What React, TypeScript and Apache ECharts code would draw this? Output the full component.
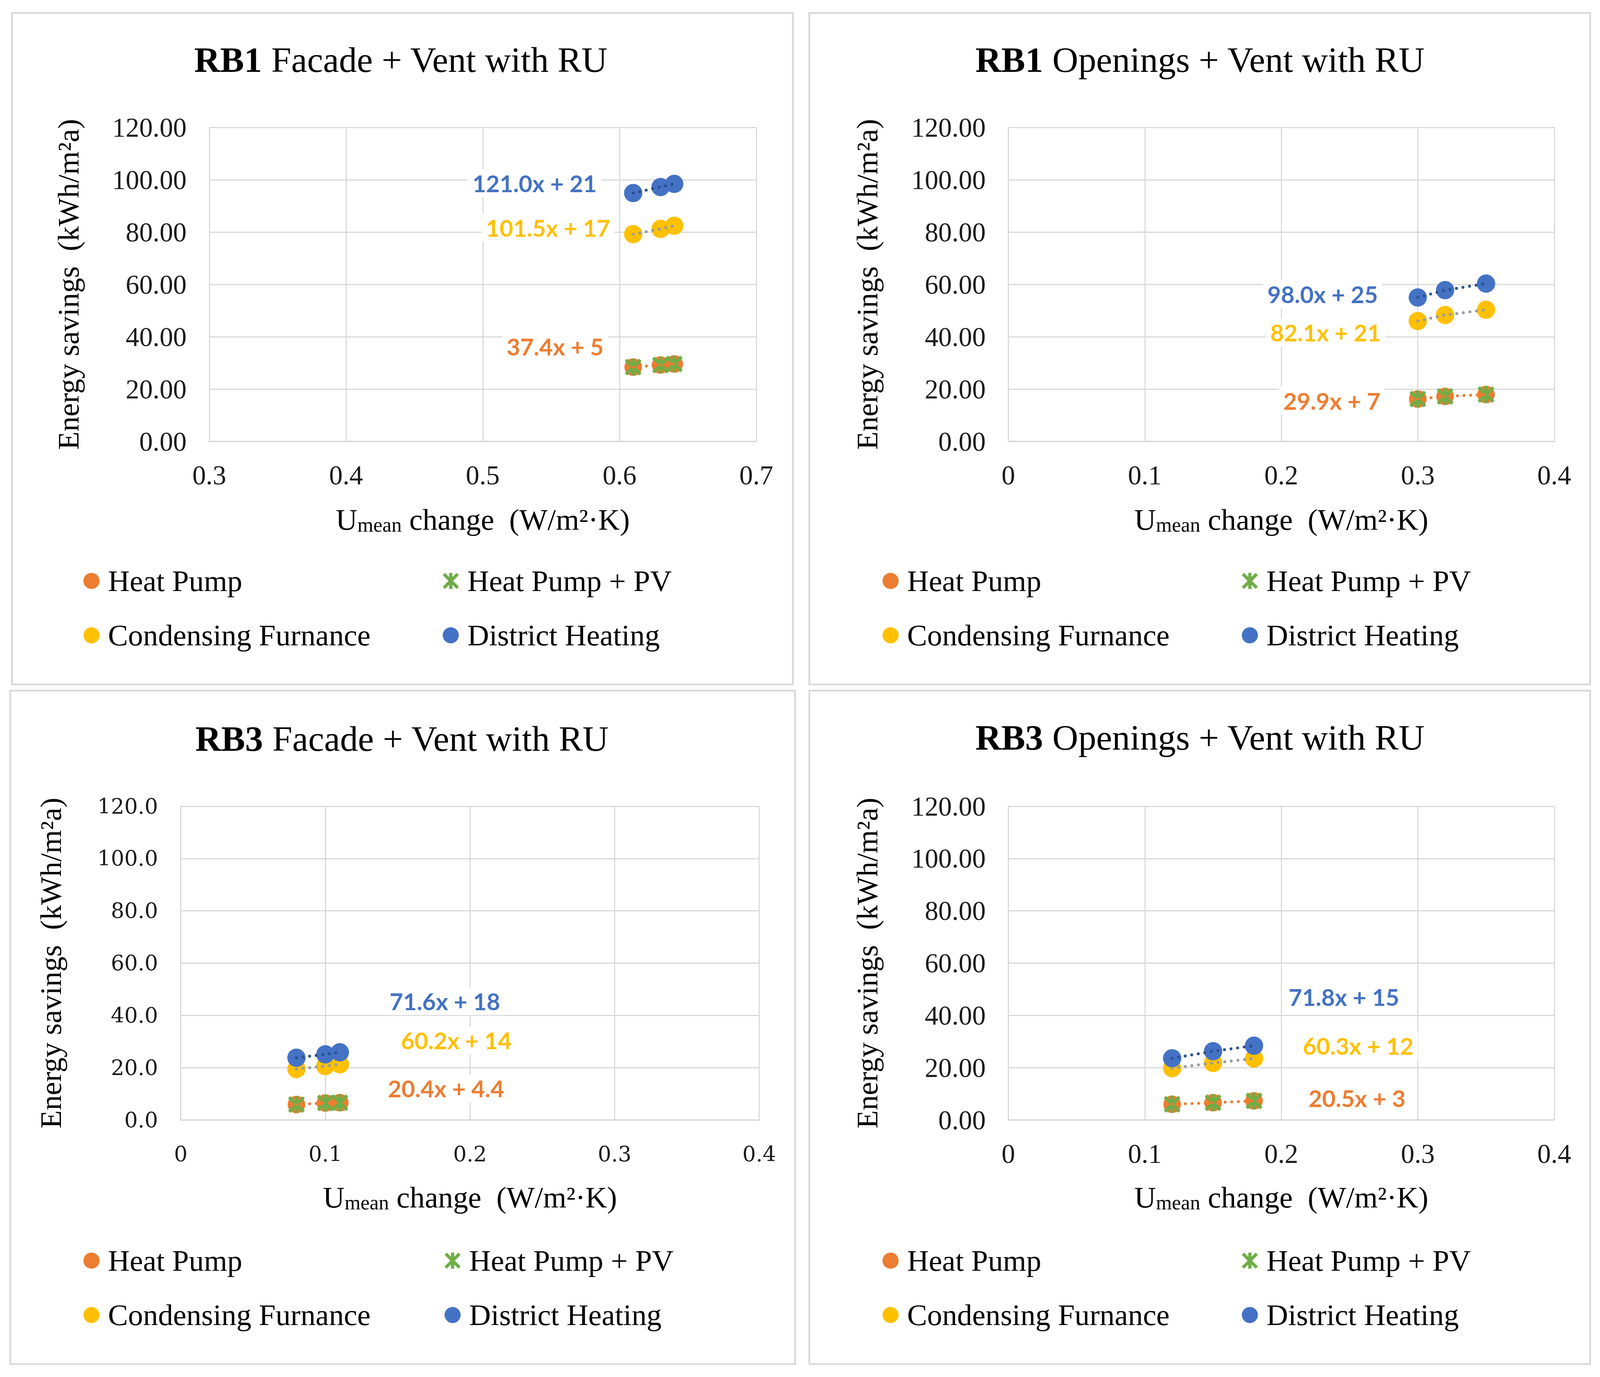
import React, { useEffect, useRef } from 'react';
import * as echarts from 'echarts';

// series names as shown in the legends (spelling kept from the source)
const seriesNames = ['Heat Pump', 'Heat Pump + PV', 'Condensing Furnance', 'District Heating'];

// RB1 Facade + Vent with RU
const rb1FacadeX = [0.61, 0.63, 0.64];
const rb1FacadeHP = [28.4, 29.2, 29.6];
const rb1FacadeHPPV = [28.4, 29.2, 29.6];
const rb1FacadeCF = [79.2, 81.2, 82.4];
const rb1FacadeDH = [94.9, 97.2, 98.4];

// RB1 Openings + Vent with RU
const rb1OpeningsX = [0.3, 0.32, 0.35];
const rb1OpeningsHP = [16.2, 17.2, 17.9];
const rb1OpeningsHPPV = [16.2, 17.2, 17.9];
const rb1OpeningsCF = [46.0, 48.3, 50.3];
const rb1OpeningsDH = [55.0, 57.8, 60.3];

// RB3 Facade + Vent with RU
const rb3FacadeX = [0.08, 0.1, 0.11];
const rb3FacadeHP = [5.9, 6.5, 6.6];
const rb3FacadeHPPV = [5.9, 6.5, 6.6];
const rb3FacadeCF = [19.5, 20.6, 21.3];
const rb3FacadeDH = [23.8, 25.1, 25.9];

// RB3 Openings + Vent with RU
const rb3OpeningsX = [0.12, 0.15, 0.18];
const rb3OpeningsHP = [6.0, 6.6, 7.3];
const rb3OpeningsHPPV = [6.0, 6.6, 7.3];
const rb3OpeningsCF = [19.8, 21.8, 23.5];
const rb3OpeningsDH = [23.6, 26.3, 28.4];

// trendline equations, order: District Heating, Condensing Furnance, Heat Pump
const rb1FacadeEq = ['121.0x + 21', '101.5x + 17', '37.4x + 5'];
const rb1OpeningsEq = ['98.0x + 25', '82.1x + 21', '29.9x + 7'];
const rb3FacadeEq = ['71.6x + 18', '60.2x + 14', '20.4x + 4.4'];
const rb3OpeningsEq = ['71.8x + 15', '60.3x + 12', '20.5x + 3'];

const yTickMax = 120;
const yTickStep = 20;

// layout is drawn on a 4373 x 3525 design and stretched to the window
const BASE_W = 4373;
const BASE_H = 3525;

const SERIF = 'Liberation Serif, Times New Roman, serif';
const COLORS = { hp: '#ED7D31', pv: '#70AD47', cf: '#FFC000', dh: '#4472C4' };
const TREND = { hp: '#ED7D31', cf: '#9C9C9C', dh: '#2F528F' };
const GRID_LINE = '#D9D9D9';
const STAR = 'path://M8 0H12V20H8Z M2.8 0L20 17.2L17.2 20L0 2.8Z M17.2 0L20 2.8L2.8 20L0 17.2Z';

const panels = [
  {
    bold: 'RB1', rest: ' Facade + Vent with RU', x: rb1FacadeX, hp: rb1FacadeHP, pv: rb1FacadeHPPV,
    cf: rb1FacadeCF, dh: rb1FacadeDH, eq: rb1FacadeEq, xMin: 0.3, xMax: 0.7, decimals: 2,
    tickFont: SERIF, tickSize: 74, xLabelMargin: 52,
    grid: { left: 572, top: 326, width: 1495, height: 804 }, border: [33, 33, 2134, 1719],
    title: [1096, 153], legendRows: [1487, 1626], legendCols: [268, 1250], yNameGap: 344, xNameGap: 162,
    eqPos: [[1461, 469], [1498, 583], [1517, 887]],
  },
  {
    bold: 'RB1', rest: ' Openings + Vent with RU', x: rb1OpeningsX, hp: rb1OpeningsHP, pv: rb1OpeningsHPPV,
    cf: rb1OpeningsCF, dh: rb1OpeningsDH, eq: rb1OpeningsEq, xMin: 0, xMax: 0.4, decimals: 2,
    tickFont: SERIF, tickSize: 74, xLabelMargin: 52,
    grid: { left: 2756, top: 326, width: 1492, height: 804 }, border: [2212, 33, 2134, 1719],
    title: [3280, 153], legendRows: [1487, 1626], legendCols: [2452, 3434], yNameGap: 344, xNameGap: 162,
    eqPos: [[3615, 753], [3623, 851], [3640, 1026]],
  },
  {
    bold: 'RB3', rest: ' Facade + Vent with RU', x: rb3FacadeX, hp: rb3FacadeHP, pv: rb3FacadeHPPV,
    cf: rb3FacadeCF, dh: rb3FacadeDH, eq: rb3FacadeEq, xMin: 0, xMax: 0.4, decimals: 1,
    tickFont: 'DejaVu Serif, serif', tickSize: 58, xLabelMargin: 60,
    grid: { left: 494, top: 2064, width: 1581, height: 803 }, border: [28, 1768, 2145, 1724],
    title: [1099, 1891], legendRows: [3227, 3366], legendCols: [268, 1255], yNameGap: 314, xNameGap: 160,
    eqPos: [[1216, 2563], [1247, 2663], [1219, 2786]],
  },
  {
    bold: 'RB3', rest: ' Openings + Vent with RU', x: rb3OpeningsX, hp: rb3OpeningsHP, pv: rb3OpeningsHPPV,
    cf: rb3OpeningsCF, dh: rb3OpeningsDH, eq: rb3OpeningsEq, xMin: 0, xMax: 0.4, decimals: 2,
    tickFont: SERIF, tickSize: 74, xLabelMargin: 52,
    grid: { left: 2756, top: 2064, width: 1492, height: 803 }, border: [2212, 1768, 2134, 1724],
    title: [3280, 1888], legendRows: [3227, 3366], legendCols: [2452, 3434], yNameGap: 344, xNameGap: 160,
    eqPos: [[3673, 2552], [3712, 2677], [3709, 2811]],
  },
];

const pairs = (xs: number[], ys: number[]) => xs.map((x, i) => [x, ys[i]]);

function buildOption(kx: number, ky: number) {
  const X = (v: number) => v * kx;
  const Y = (v: number) => v * ky;
  const kf = Math.min(kx, ky);
  const F = (v: number) => v * kf;
  const grid: any[] = [];
  const xAxis: any[] = [];
  const yAxis: any[] = [];
  const series: any[] = [];
  const legend: any[] = [];
  const graphic: any[] = [];

  panels.forEach((p, i) => {
    grid.push({ left: X(p.grid.left), top: Y(p.grid.top), width: X(p.grid.width), height: Y(p.grid.height), containLabel: false });
    xAxis.push({
      gridIndex: i, type: 'value', min: p.xMin, max: p.xMax, interval: 0.1,
      axisLine: { show: true, lineStyle: { color: GRID_LINE, width: F(4) } },
      axisTick: { show: false },
      splitLine: { show: true, lineStyle: { color: GRID_LINE, width: F(3) } },
      axisLabel: {
        color: '#1a1a1a', fontFamily: p.tickFont, fontSize: F(p.tickSize), margin: Y(p.xLabelMargin),
        formatter: (v: number) => (Math.abs(v) < 1e-9 ? '0' : String(+v.toFixed(1))),
      },
      name: '{m|U}{s|mean}{m| change  (W/m²·K)}',
      nameLocation: 'middle', nameGap: Y(p.xNameGap),
      nameTextStyle: {
        rich: {
          m: { fontFamily: SERIF, fontSize: F(82), lineHeight: F(82), verticalAlign: 'top', color: '#000' },
          s: { fontFamily: SERIF, fontSize: F(56), lineHeight: F(56), verticalAlign: 'bottom', padding: [F(50), 0, 0, 0], color: '#000' },
        },
      },
    });
    yAxis.push({
      gridIndex: i, type: 'value', min: 0, max: yTickMax, interval: yTickStep,
      axisLine: { show: true, lineStyle: { color: GRID_LINE, width: F(3) } },
      axisTick: { show: false },
      splitLine: { show: true, lineStyle: { color: GRID_LINE, width: F(3) } },
      axisLabel: {
        color: '#1a1a1a', fontFamily: p.tickFont, fontSize: F(p.tickSize), margin: X(62),
        formatter: (v: number) => v.toFixed(p.decimals),
      },
      name: 'Energy savings  (kWh/m²a)',
      nameLocation: 'middle', nameGap: X(p.yNameGap),
      nameTextStyle: { fontFamily: SERIF, fontSize: F(82), color: '#000' },
    });

    const base = { xAxisIndex: i, yAxisIndex: i, silent: true };
    series.push(
      { ...base, type: 'scatter', name: seriesNames[0], data: pairs(p.x, p.hp), symbol: 'circle', symbolSize: F(48), itemStyle: { color: COLORS.hp, opacity: 1 }, z: 2 },
      { ...base, type: 'scatter', name: seriesNames[1], data: pairs(p.x, p.pv), symbol: STAR, symbolSize: F(46), itemStyle: { color: COLORS.pv, opacity: 1 }, z: 3 },
      { ...base, type: 'scatter', name: seriesNames[2], data: pairs(p.x, p.cf), symbol: 'circle', symbolSize: F(50), itemStyle: { color: COLORS.cf, opacity: 1 }, z: 2 },
      { ...base, type: 'scatter', name: seriesNames[3], data: pairs(p.x, p.dh), symbol: 'circle', symbolSize: F(50), itemStyle: { color: COLORS.dh, opacity: 1 }, z: 2 },
    );
    const trends: Array<[number[], string]> = [[p.hp, TREND.hp], [p.cf, TREND.cf], [p.dh, TREND.dh]];
    trends.forEach(([ys, color], j) => {
      series.push({
        ...base, type: 'line', name: `trend-${i}-${j}`, data: pairs(p.x, ys), symbol: 'none', z: 5,
        lineStyle: { color, width: F(8), type: [F(0.1), F(18)], cap: 'round' },
      });
    });

    const lh = F(82);
    const legendCommon = {
      orient: 'vertical', top: Y(p.legendRows[0]) - lh / 2, itemWidth: F(80), itemHeight: F(44),
      itemGap: Y(p.legendRows[1] - p.legendRows[0]) - lh, padding: 0,
      selectedMode: false, symbolKeepAspect: true,
      textStyle: { fontFamily: SERIF, fontSize: F(82), lineHeight: lh, color: '#000', padding: 0 },
    };
    legend.push(
      { ...legendCommon, left: X(p.legendCols[0]) - F(40), data: [{ name: seriesNames[0], icon: 'circle' }, { name: seriesNames[2], icon: 'circle' }] },
      { ...legendCommon, left: X(p.legendCols[1]) - F(40), data: [{ name: seriesNames[1], icon: STAR }, { name: seriesNames[3], icon: 'circle' }] },
    );

    graphic.push({
      type: 'rect', shape: { x: X(p.border[0]), y: Y(p.border[1]), width: X(p.border[2]), height: Y(p.border[3]) },
      style: { fill: 'none', stroke: GRID_LINE, lineWidth: F(5) }, silent: true,
    });
    graphic.push({
      type: 'text', x: X(p.title[0]), y: Y(p.title[1]), silent: true,
      style: {
        text: `{b|${p.bold}}{r|${p.rest}}`, align: 'center', verticalAlign: 'middle',
        rich: {
          b: { fontFamily: SERIF, fontSize: F(98), fontWeight: 'bold', fill: '#000' },
          r: { fontFamily: SERIF, fontSize: F(98), fill: '#000' },
        },
      },
    });
    const eqColors = [COLORS.dh, COLORS.cf, COLORS.hp];
    p.eq.forEach((text, j) => {
      graphic.push({
        type: 'text', x: X(p.eqPos[j][0]), y: Y(p.eqPos[j][1]), z: 50, silent: true,
        style: {
          text, fill: eqColors[j], fontFamily: 'Lato, sans-serif', fontWeight: 'bold', fontSize: F(64),
          align: 'center', verticalAlign: 'middle', backgroundColor: '#fff', padding: [F(6), F(12)],
        },
      });
    });
  });

  return {
    animation: false,
    backgroundColor: '#fff',
    textStyle: { fontFamily: SERIF },
    grid, xAxis, yAxis, series, legend, graphic,
  };
}

export default function App() {
  const ref = useRef<HTMLDivElement | null>(null);
  const w = window.innerWidth;
  const h = window.innerHeight;

  useEffect(() => {
    document.body.style.margin = '0';
    document.body.style.overflow = 'hidden';
    if (!ref.current) return;
    const chart = echarts.init(ref.current, undefined, { renderer: 'svg' });
    chart.setOption(buildOption(w / BASE_W, h / BASE_H) as any);
    return () => { chart.dispose(); };
  }, [w, h]);

  return <div ref={ref} style={{ width: w, height: h }} />;
}
